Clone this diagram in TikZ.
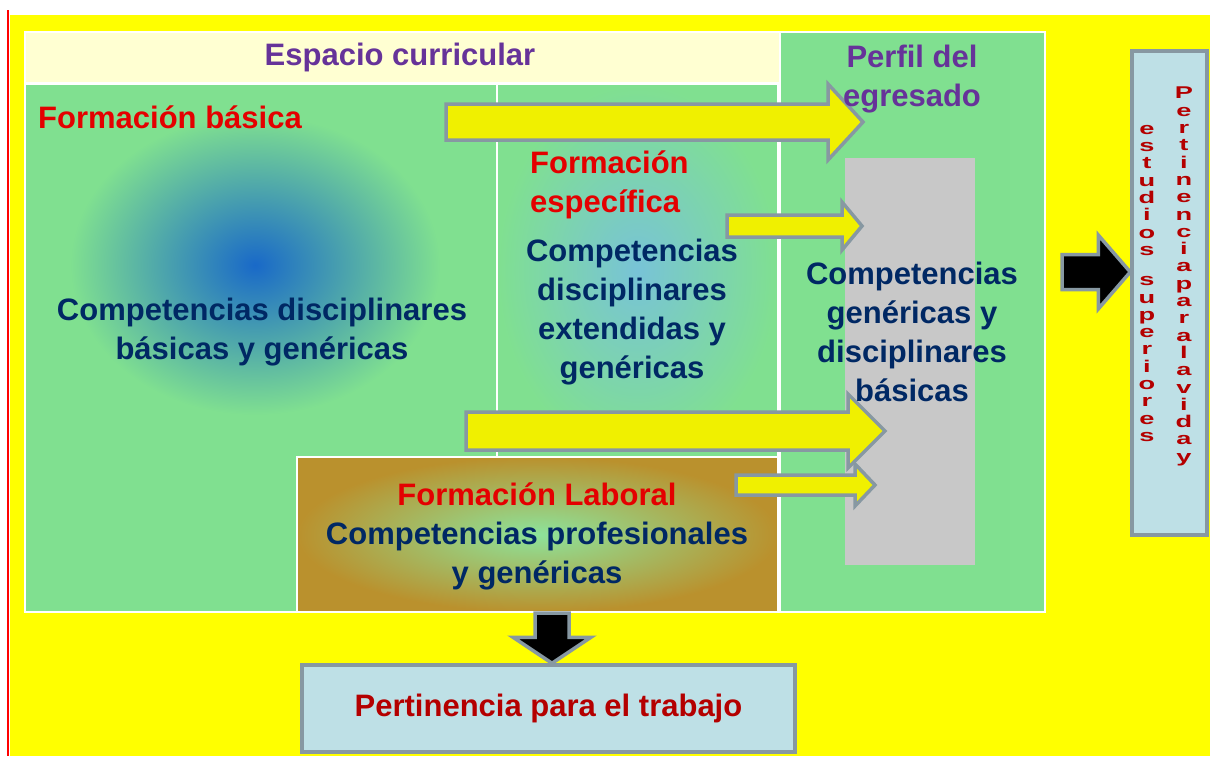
\documentclass[tikz,border=0pt]{standalone}
\usepackage{fontspec}
\setmainfont{Liberation Sans}
\newfontfamily\ancha{Liberation Sans}[FakeStretch=1.6]
\usetikzlibrary{calc}

\definecolor{fondo}{RGB}{255,255,0}
\definecolor{verde}{RGB}{128,224,144}
\definecolor{crema}{RGB}{255,255,210}
\definecolor{gris}{RGB}{200,200,200}
\definecolor{celeste}{RGB}{190,224,230}
\definecolor{borde}{RGB}{135,152,162}
\definecolor{flecha}{RGB}{240,240,0}
\definecolor{morado}{RGB}{102,51,153}
\definecolor{rojo}{RGB}{228,0,0}
\definecolor{marino}{RGB}{0,40,100}
\definecolor{granate}{RGB}{180,0,0}
\definecolor{azul}{RGB}{25,105,200}
\definecolor{cian}{RGB}{120,195,215}
\definecolor{cafe}{RGB}{186,145,45}

\newcommand{\apretado}{\lineskiplimit=-50pt\relax}

\tikzset{
  caja/.style={rectangle, draw=white, line width=2pt, inner sep=0pt},
  marco/.style={rectangle, draw=borde, line width=3.5pt, fill=celeste, inner sep=0pt},
  texto/.style={font=\bfseries\fontsize{31}{39}\selectfont, align=center, inner sep=0pt},
  vertical/.style={font=\ancha\bfseries\fontsize{17}{17.3}\selectfont, align=center, inner sep=0pt, text=granate},
  amarilla/.style={fill=flecha, draw=borde, line width=3.5pt},
  negra/.style={fill=black, draw=borde, line width=3.5pt},
}

% flecha gruesa: [estilo]{inicio}{fin}{medio ancho}{medio ancho punta}{largo punta}
\newcommand{\flechagruesa}[6][]{%
  \coordinate (fg-h) at ($(#3)!#6!(#2)$);
  \draw[#1] ($(#2)!#4!90:(#3)$) -- ($(fg-h)!#4!90:(#3)$) -- ($(fg-h)!#5!90:(#3)$)
    -- (#3) -- ($(fg-h)!#5!-90:(#3)$) -- ($(fg-h)!#4!-90:(#3)$) -- ($(#2)!#4!-90:(#3)$) -- cycle;
}

\begin{document}
\begin{tikzpicture}[x=1pt, y=-1pt]
        \useasboundingbox (0,0) rectangle (1210,756);
        % Fondo
        \fill[white] (0,0) rectangle (1210,756);
        \fill[fondo] (10,15) rectangle (1210,756);
        \draw[red, line width=2.5pt] (8,10) -- (8,756);

        % Cajas
        \node[caja, fill=crema, minimum width=755pt, minimum height=51pt] at (402.5,57.5) (header) {};
        \node[caja, fill=verde, minimum width=265pt, minimum height=580pt] at (912.5,322) (perfil) {};
        \node[caja, fill=verde, minimum width=472pt, minimum height=528pt] at (261,348) (basica) {};
        \shade[inner color=azul, outer color=verde] (70,115) rectangle (440,415);
        \node[caja, shade, inner color=cian, outer color=verde, minimum width=281pt, minimum height=373pt] at (637.5,270.5) (especifica) {};
        \node[caja, shade, inner color=verde!90!white, outer color=cafe, minimum width=481pt, minimum height=155pt] at (537.5,534.5) (laboral) {};
        \node[rectangle, fill=gris, minimum width=130pt, minimum height=407pt] at (910,361.5) (gris) {};
        \node[marco, minimum width=493pt, minimum height=87pt, texto, text=granate] at (548.5,708.5) (trabajo) {Pertinencia para el trabajo};
        \node[marco, minimum width=75pt, minimum height=484pt] at (1169.5,293) (superiores) {};

        % Flechas amarillas
        \coordinate (a1) at (446,122);
        \coordinate (b1) at (863,122);
        \coordinate (a2) at (727,226);
        \coordinate (b2) at (862,226);
        \coordinate (a3) at (466,431);
        \coordinate (b3) at (885,431);
        \coordinate (a4) at (736,485);
        \coordinate (b4) at (875,485);
        \flechagruesa[amarilla]{a1}{b1}{18pt}{38pt}{35pt}
        \flechagruesa[amarilla]{a2}{b2}{11pt}{24pt}{20pt}
        \flechagruesa[amarilla]{a3}{b3}{19pt}{37pt}{37pt}
        \flechagruesa[amarilla]{a4}{b4}{10pt}{21pt}{20pt}

        % Flechas negras
        \coordinate (bajada) at (552,613);
        \coordinate (llegada) at (bajada |- trabajo.north);
        \flechagruesa[negra]{bajada}{llegada}{17pt}{39pt}{26pt}
        \coordinate (salida) at (1062,272);
        \coordinate (entrada) at (salida -| superiores.west);
        \flechagruesa[negra]{salida}{entrada}{17.5pt}{37pt}{32pt}

        % Textos
        \node[texto, text=morado] at (400,57) (t-espacio) {Espacio curricular};
        \node[texto, text=morado] at (912,79) (t-perfil) {Perfil del\\egresado};
        \node[texto, text=rojo, anchor=west] at (38,117) (t-basica) {Formación básica};
        \node[texto, text=rojo, align=left, anchor=west] at (530,185) (t-especifica) {Formación\\específica};
        \node[texto, text=marino] at (262,332) (t-comp1) {Competencias disciplinares\\básicas y genéricas};
        \node[texto, text=marino] at (632,312) (t-comp2) {Competencias\\disciplinares\\extendidas y\\genéricas};
        \node[texto, text=marino] at (912,332) (t-comp3) {Competencias\\genéricas y\\disciplinares\\básicas};
        \node[texto, text=marino] at (537,536) (t-laboral) {\textcolor{rojo}{Formación Laboral}\\Competencias profesionales\\y genéricas};
        \node[vertical, anchor=north] at (1184,87) (t-vida) {\apretado P\\e\\r\\t\\i\\n\\e\\n\\c\\i\\a\\p\\a\\r\\a\\l\\a\\v\\i\\d\\a\\y};
        \node[vertical, anchor=north] at (1147,125) (t-estudios) {\apretado e\\s\\t\\u\\d\\i\\o\\s\\[13pt]s\\u\\p\\e\\r\\i\\o\\r\\e\\s};
    \end{tikzpicture}
\end{document}
